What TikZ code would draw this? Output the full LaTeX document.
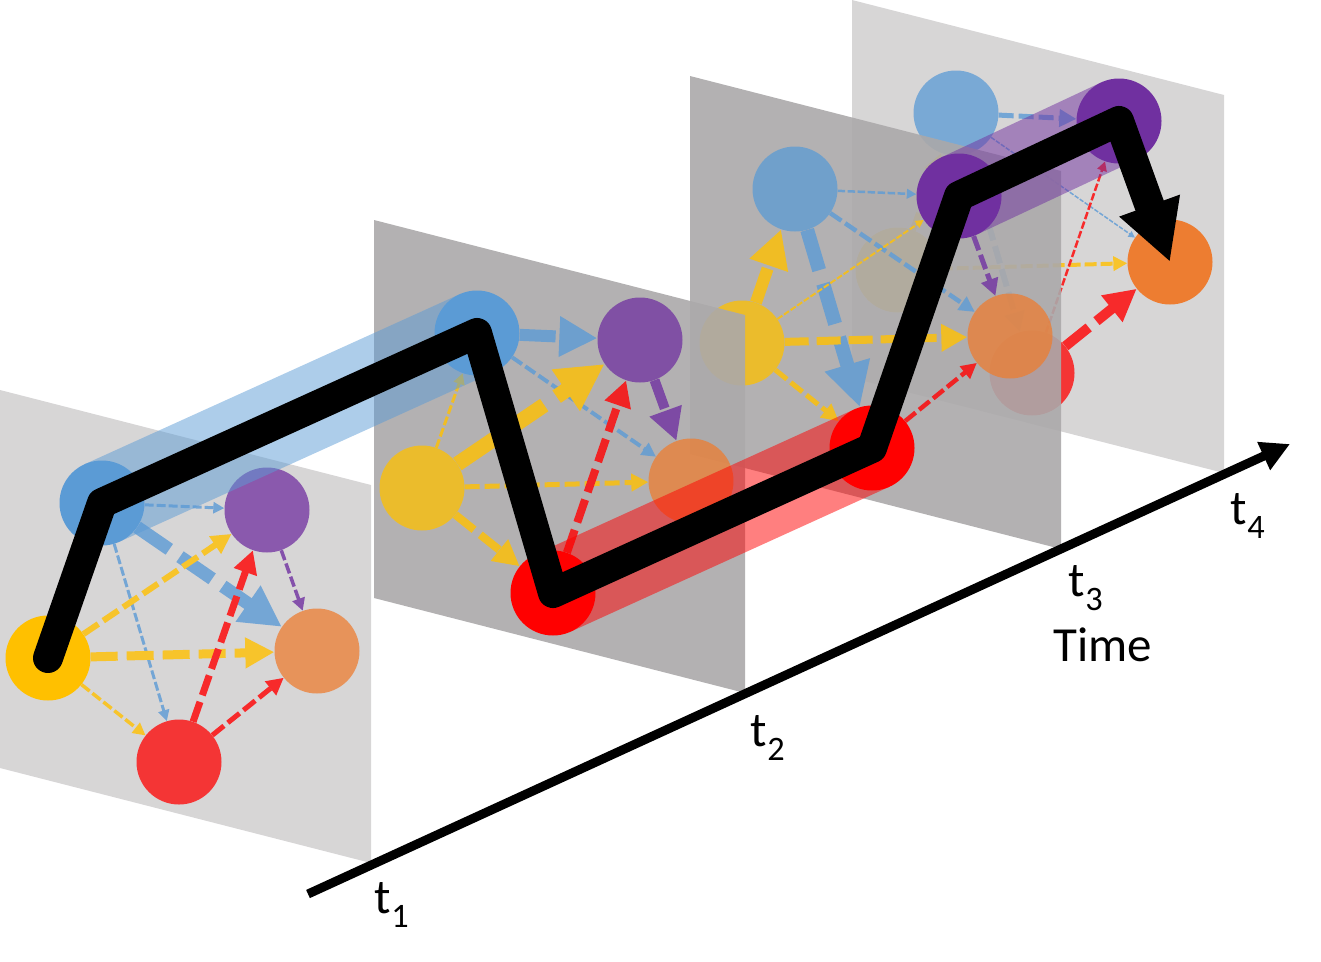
\documentclass[tikz,border=0pt]{standalone}
\usepackage{fontspec}
\setmainfont{Carlito}
\usetikzlibrary{arrows.meta}

\definecolor{nblue}{HTML}{5B9BD5}
\definecolor{npurple}{HTML}{7030A0}
\definecolor{nyellow}{HTML}{FFC000}
\definecolor{norange}{HTML}{ED7D31}
\definecolor{nred}{HTML}{FF0000}
\definecolor{lightslab}{RGB}{211,209,210}
\definecolor{darkslab}{RGB}{171,169,170}
\definecolor{bgl}{RGB}{214,212,213}
\definecolor{bgd}{RGB}{179,177,178}

\tikzset{
  slab/.style={fill=#1, fill opacity=0.9},
  vert/.style={circle, minimum size=85pt, inner sep=0pt, fill=#1},
  faint/.style={fill opacity=0.75},
  lnk/.style 2 args={draw=#1!80!ebg, line width=#2, dash pattern=on 3*#2 off #2,
    -{Triangle[length=2pt 3, width=2pt 3]}},
  band/.style={draw=#1, line width=85pt, opacity=0.5},
  trail/.style={line width=30pt, line join=round, line cap=round, -{Triangle[length=60pt, width=60pt]}},
  timeline/.style={line width=9pt, -{Triangle[length=29pt, width=29pt]}},
  lbl/.style={inner sep=0pt, font=\fontsize{49}{58}\selectfont}
}

\begin{document}
\begin{tikzpicture}[x=1pt, y=-1pt]
  \useasboundingbox (0,0) rectangle (1321,961);

  \colorlet{ebg}{bgl}
  \fill[slab=lightslab] (852,0) -- ++(372,95) -- ++(0,378) -- ++(-372,-95) -- cycle;
  \begin{scope}[shift={(852,0)}]
    \node[vert=nblue, faint] (b4) at (104,113) {};
    \node[vert=npurple] (p4) at (267,121) {};
    \node[vert=nyellow, faint] (y4) at (46,270) {};
    \node[vert=norange] (o4) at (318,262) {};
    \node[vert=nred, faint] (r4) at (180,373) {};
  \end{scope}
  \draw[lnk={nblue}{5pt}] (b4) -- (p4);
  \draw[lnk={nblue}{1.5pt}] (b4) -- (o4);
  \draw[lnk={nblue}{6pt}] (b4) -- (r4);
  \draw[lnk={nyellow}{6pt}] (y4) -- (b4);
  \draw[lnk={nyellow}{4pt}] (y4) -- (o4);
  \draw[lnk={nred}{2.5pt}] (r4) -- (p4);
  \draw[lnk={nred}{10pt}] (r4) -- (o4);

  \colorlet{ebg}{bgd}
  \fill[slab=darkslab] (690,76) -- ++(371,95) -- ++(0,378) -- ++(-371,-95) -- cycle;
  \begin{scope}[shift={(691,76)}]
    \node[vert=nblue, faint] (b3) at (104,113) {};
    \node[vert=npurple] (p3) at (268,120) {};
    \node[vert=nyellow, faint] (y3) at (51,267) {};
    \node[vert=norange, faint] (o3) at (319,260) {};
    \node[vert=nred] (r3) at (181,372) {};
  \end{scope}
  \draw[lnk={nblue}{2.5pt}] (b3) -- (p3);
  \draw[lnk={nblue}{14pt}] (b3) -- (r3);
  \draw[lnk={nblue}{4.5pt}] (b3) -- (o3);
  \draw[lnk={nyellow}{12pt}] (y3) -- (b3);
  \draw[lnk={nyellow}{2pt}] (y3) -- (p3);
  \draw[lnk={nyellow}{8pt}] (y3) -- (o3);
  \draw[lnk={nyellow}{5pt}] (y3) -- (r3);
  \draw[lnk={nred}{4.5pt}] (r3) -- (o3);
  \draw[lnk={npurple}{5pt}] (p3) -- (o3);

  \fill[slab=darkslab] (374,220) -- ++(371,95) -- ++(0,378) -- ++(-371,-95) -- cycle;
  \begin{scope}[shift={(374,220)}]
    \node[vert=nblue] (b2) at (103,113) {};
    \node[vert=npurple, faint] (p2) at (266,120) {};
    \node[vert=nyellow, faint] (y2) at (48,268) {};
    \node[vert=norange, faint] (o2) at (317,261) {};
    \node[vert=nred] (r2) at (179,373) {};
  \end{scope}
  \draw[lnk={nblue}{12pt}] (b2) -- (p2);
  \draw[lnk={nblue}{4pt}] (b2) -- (o2);
  \draw[lnk={nyellow}{3pt}] (y2) -- (b2);
  \draw[lnk={nyellow}{15pt}] (y2) -- (p2);
  \draw[lnk={nyellow}{5pt}] (y2) -- (o2);
  \draw[lnk={nyellow}{8pt}] (y2) -- (r2);
  \draw[lnk={nred}{8pt}] (r2) -- (p2);
  \draw[lnk={npurple}{10pt}] (p2) -- (o2);

  \colorlet{ebg}{bgl}
  \fill[slab=lightslab] (0,390) -- ++(371,95) -- ++(0,378) -- ++(-371,-95) -- cycle;
  \begin{scope}[shift={(0,390)}]
    \node[vert=nblue] (b1) at (102,113) {};
    \node[vert=npurple, faint] (p1) at (267,120) {};
    \node[vert=nyellow] (y1) at (48,268) {};
    \node[vert=norange, faint] (o1) at (317,261) {};
    \node[vert=nred, faint] (r1) at (179,372) {};
  \end{scope}
  \draw[lnk={nblue}{3pt}] (b1) -- (p1);
  \draw[lnk={nblue}{13pt}] (b1) -- (o1);
  \draw[lnk={nblue}{3pt}] (b1) -- (r1);
  \draw[lnk={nyellow}{6pt}] (y1) -- (p1);
  \draw[lnk={nyellow}{9pt}] (y1) -- (o1);
  \draw[lnk={nyellow}{3.5pt}] (y1) -- (r1);
  \draw[lnk={nred}{7pt}] (r1) -- (p1);
  \draw[lnk={nred}{5pt}] (r1) -- (o1);
  \draw[lnk={npurple}{3.5pt}] (p1) -- (o1);

  \draw[band=nblue] (b1.center) -- (b2.center);
  \draw[band=nred] (r2.center) -- (r3.center);
  \draw[band=npurple] (p3.center) -- (p4.center);

  \draw[trail] (y1.center) -- (b1.center) -- (b2.center) -- (r2.center) -- (r3.center)
    -- (p3.center) -- (p4.center) -- (o4.center);

  \coordinate (tstart) at (308,894);
  \coordinate (tend) at (1290,444);
  \draw[timeline] (tstart) -- (tend);

  \node[lbl] (t1) at (392,905) {t\textsubscript{1}};
  \node[lbl] (t2) at (768,738) {t\textsubscript{2}};
  \node[lbl] (t3) at (1086,588) {t\textsubscript{3}};
  \node[lbl] (t4) at (1248,516) {t\textsubscript{4}};
  \node[lbl] (tm) at (1103,645) {Time};
\end{tikzpicture}
\end{document}
